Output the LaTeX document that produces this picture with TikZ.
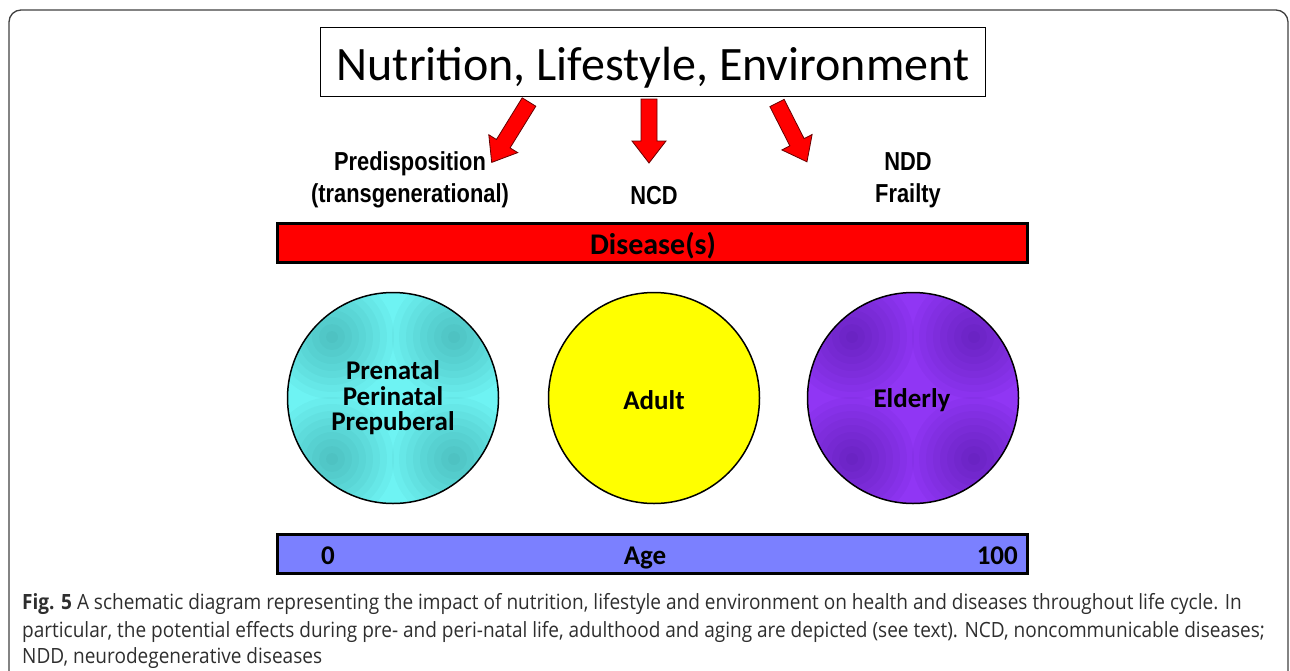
\documentclass[tikz,border=0pt]{standalone}
\usepackage{fontspec}
\setmainfont{Carlito}
\newfontfamily\narrowfont[FakeStretch=0.84]{Liberation Sans}
\newfontfamily\capfont[FakeStretch=0.906]{Open Sans}

\definecolor{barred}{HTML}{FF0000}
\definecolor{agebar}{HTML}{7B80FF}
\definecolor{yellowbase}{HTML}{FFFF00}
\definecolor{cyanbase}{HTML}{6EF3F3}
\definecolor{cyanshadow}{HTML}{106060}
\definecolor{purplebase}{HTML}{9036F4}
\definecolor{purpleshadow}{HTML}{200060}
\definecolor{arrowred}{HTML}{FF0000}
\definecolor{captiongray}{HTML}{2E2E2E}

% soft darkening towards the four diagonals of a disc node:
% stacked translucent discs, clipped to the node
\newcommand\diagspots[2]{%
  \begin{scope}
    \clip (#1.center) circle (104.6);
    \foreach \sx/\sy in {1/1,1/-1,-1/1,-1/-1}
      \foreach \r in {62,55,...,6}
        \fill[#2, fill opacity=0.038, shift={(#1.center)}]
          (\sx*61,\sy*61) circle (\r);
  \end{scope}}

\begin{document}
\begin{tikzpicture}[x=1pt, y=-1pt,
  titlebox/.style={draw, line width=0.9pt, minimum width=665, minimum height=69,
    inner sep=0pt},
  titletext/.style={inner sep=0pt, font=\fontsize{48}{56}\selectfont},
  stagelabel/.style={align=center, inner sep=0pt,
    font=\narrowfont\bfseries\fontsize{26}{32}\selectfont},
  bar/.style={draw, line width=3pt, minimum width=750, minimum height=39, inner sep=0pt},
  bartext/.style={inner sep=0pt, font=\bfseries\fontsize{30}{34}\selectfont},
  agetext/.style={inner sep=0pt, font=\bfseries\fontsize{27}{32}\selectfont},
  stagetext/.style={inner sep=0pt, align=center,
    font=\bfseries\fontsize{27}{25.5}\selectfont},
  stage/.style={circle, draw, line width=1.5pt, minimum size=211, inner sep=0pt},
  blockarrow/.style={fill=arrowred, draw=black!60!red, line width=0.8pt, line join=miter},
  caption/.style={anchor=base west, inner sep=0pt, text=captiongray,
    font=\capfont\fontsize{21}{27}\selectfont}
]
\useasboundingbox (0,0) rectangle (1290,670);

% outer frame, open at the bottom
\draw[line width=1.3pt, black!75, rounded corners=12]
  (9,672) -- (9,10) -- (1288,10) -- (1288,672);

% heading
\node[titlebox] (title) at (653,62) {};
\node[titletext] (titletxt) at (653,68) {Nutrition, Lifestyle, Environment};

% block arrows: tail point, rotation, length
\foreach \tx/\ty/\ang/\len in {529/102/-31.7/71, 649/99/0/64, 777/103/27/66}
  \draw[blockarrow, shift={(\tx,\ty)}, rotate=\ang]
    (-8,0) -- (8,0) -- (8,\len-22) -- (17,\len-22) -- (0,\len)
    -- (-17,\len-22) -- (-8,\len-22) -- cycle;

% stage labels
\node[stagelabel] (pre) at (410,180) {Predisposition\\(transgenerational)};
\node[stagelabel] (ncd) at (654,196) {NCD};
\node[stagelabel] (ndd) at (908,180) {NDD\\Frailty};

% disease bar
\node[bar, fill=barred] (disease) at (652.5,243) {};
\node[bartext] (diseasetext) at (653,246) {Disease(s)};

% life stages
\node[stage, fill=cyanbase] (young) at (393,398) {};
\diagspots{young}{cyanshadow}
\node[stagetext] (youngtxt) at (393,398) {Prenatal\\Perinatal\\Prepuberal};

\node[stage, fill=yellowbase] (adult) at (654,398) {};
\node[stagetext] (adulttxt) at (654,400) {Adult};

\node[stage, fill=purplebase] (elderly) at (913,398) {};
\diagspots{elderly}{purpleshadow}
\node[stagetext] (eldertxt) at (912,400) {Elderly};

% age axis
\node[bar, fill=agebar] (age) at (652.5,553.5) {};
\node[agetext] (agelabel) at (645,558) {Age};
\node[agetext] (agezero) at (328,556) {0};
\node[agetext, anchor=east] (agehundred) at (1018,556) {100};

% caption
\node[caption] (cap1) at (22,609)
  {{\bfseries Fig. 5} A schematic diagram representing the impact of nutrition, lifestyle and environment on health and diseases throughout life cycle. In};
\node[caption] (cap2) at (22,637)
  {particular, the potential effects during pre- and peri-natal life, adulthood and aging are depicted (see text). NCD, noncommunicable diseases;};
\node[caption] (cap3) at (22,663)
  {NDD, neurodegenerative diseases};
\end{tikzpicture}
\end{document}
